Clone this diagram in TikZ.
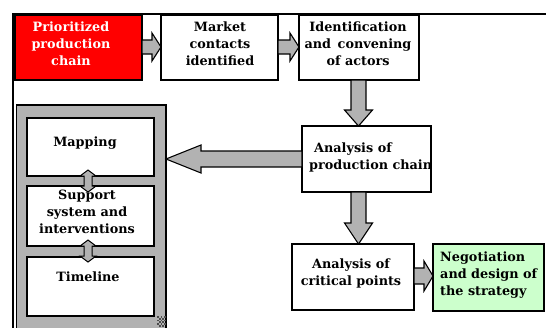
\documentclass[tikz,border=0pt]{standalone}
\usepackage{fontspec}
\setmainfont{DejaVu Serif}
\usetikzlibrary{calc}
\definecolor{prio}{RGB}{255,0,0}
\definecolor{mint}{RGB}{204,255,204}
\definecolor{band}{RGB}{178,178,178}
\begin{document}
\begin{tikzpicture}[x=1pt,y=-1pt,
  box/.style={draw=black,line width=1.2pt,fill=white},
  label/.style={font=\bfseries\fontsize{12.8}{17}\selectfont,align=center,inner sep=0pt},
  barrow/.style={draw=black,line width=1.1pt,fill=band,line join=miter}]
\useasboundingbox (0,0) rectangle (546,327);

% outer frame
\draw[line width=1.4pt] (13,330) -- (13,14) -- (546,14);

% top row of steps
\path[box,fill=prio] (15,15) rectangle (142,80);
\node[label,text=white] (prio) at (71,44) {Prioritized\\production\\chain};
\coordinate (prioE) at (142,47);

\path[box] (161,15) rectangle (278,80);
\node[label] (market) at (220,44) {Market\\contacts\\identified};
\coordinate (marketW) at (161,47);
\coordinate (marketE) at (278,47);

\path[box] (299,15) rectangle (419,80);
\node[label] (ident) at (358,44) {Identification\\and\, convening\\of actors};
\coordinate (identW) at (299,47);
\coordinate (identS) at (358.5,80);

% analysis boxes
\path[box] (302,126) rectangle (431,192);
\node[label,align=left,anchor=west] (prod) at (309,157) {\hspace*{5pt}Analysis of\\production chain};
\coordinate (prodN) at (358.5,126);
\coordinate (prodS) at (358.5,192);
\coordinate (prodW) at (302,159);

\path[box] (292,244) rectangle (414,310);
\node[label] (crit) at (351,273) {Analysis of\\critical points};
\coordinate (critN) at (358.5,244);
\coordinate (critE) at (414,276);

\path[box,fill=mint] (433,244) rectangle (544,311);
\node[label,align=left,anchor=west] (nego) at (440,275) {Negotiation\\and design of\\the strategy};
\coordinate (negoW) at (433,276);

% grey panel with the three planning blocks
\path[draw=black,line width=1.4pt,fill=band] (16.5,105) rectangle (166,332);
\coordinate (panelE) at (166,160);
\path[box] (27,118) rectangle (154,176);
\path[box] (27,186) rectangle (154,246);
\path[box] (27,257) rectangle (154,316);
\node[label] (mapping) at (85,143) {Mapping};
\node[label] (support) at (87,212) {Support\\system and\\interventions};
\node[label] (timeline) at (88,277) {Timeline};

% checkered corner mark
\foreach \i in {0,...,4}
  \foreach \j in {0,...,5} {
    \pgfmathtruncatemacro{\odd}{mod(\i+\j,2)}
    \ifnum\odd=0
      \fill[black!70] ({157+1.8*\i},{316+1.8*\j}) rectangle ++(1.8,1.8);
    \fi
  }

% horizontal block arrows
\draw[barrow] let \p1=(prioE), \p2=(marketW) in
  (\x1,\y1+7pt) -- (\x2-9pt,\y1+7pt) -- (\x2-9pt,\y1+14pt) -- (\x2,\y1)
  -- (\x2-9pt,\y1-14pt) -- (\x2-9pt,\y1-7pt) -- (\x1,\y1-7pt) -- cycle;
\draw[barrow] let \p1=(marketE), \p2=(identW) in
  (\x1,\y1+7pt) -- (\x2-9pt,\y1+7pt) -- (\x2-9pt,\y1+14pt) -- (\x2,\y1)
  -- (\x2-9pt,\y1-14pt) -- (\x2-9pt,\y1-7pt) -- (\x1,\y1-7pt) -- cycle;
\draw[barrow] let \p1=(critE), \p2=(negoW) in
  (\x1,\y1+8pt) -- (\x2-9pt,\y1+8pt) -- (\x2-9pt,\y1+15pt) -- (\x2,\y1)
  -- (\x2-9pt,\y1-15pt) -- (\x2-9pt,\y1-8pt) -- (\x1,\y1-8pt) -- cycle;
% big arrow into the panel
\draw[barrow] let \p1=(prodW), \p2=(panelE) in
  (\x1,\y1+8pt) -- (\x2+35pt,\y1+8pt) -- (\x2+35pt,\y1+14pt) -- (\x2,\y1)
  -- (\x2+35pt,\y1-14pt) -- (\x2+35pt,\y1-8pt) -- (\x1,\y1-8pt) -- cycle;

% vertical block arrows
\draw[barrow] let \p1=(identS), \p2=(prodN) in
  (\x1-7.5pt,\y1) -- (\x1-7.5pt,\y2+16pt) -- (\x1-14pt,\y2+16pt) -- (\x1,\y2)
  -- (\x1+14pt,\y2+16pt) -- (\x1+7.5pt,\y2+16pt) -- (\x1+7.5pt,\y1) -- cycle;
\draw[barrow] let \p1=(prodS), \p2=(critN) in
  (\x1-7.5pt,\y1) -- (\x1-7.5pt,\y2+21pt) -- (\x1-14pt,\y2+21pt) -- (\x1,\y2)
  -- (\x1+14pt,\y2+21pt) -- (\x1+7.5pt,\y2+21pt) -- (\x1+7.5pt,\y1) -- cycle;

% two-way links between the planning blocks
\foreach \top/\bot in {170/192, 240/262} {
  \draw[barrow,line width=1pt]
    (84,\top+6) -- (80,\top+6) -- (88,\top) -- (96,\top+6) -- (92,\top+6)
    -- (92,\bot-6) -- (96,\bot-6) -- (88,\bot) -- (80,\bot-6) -- (84,\bot-6) -- cycle;
}
\end{tikzpicture}
\end{document}
